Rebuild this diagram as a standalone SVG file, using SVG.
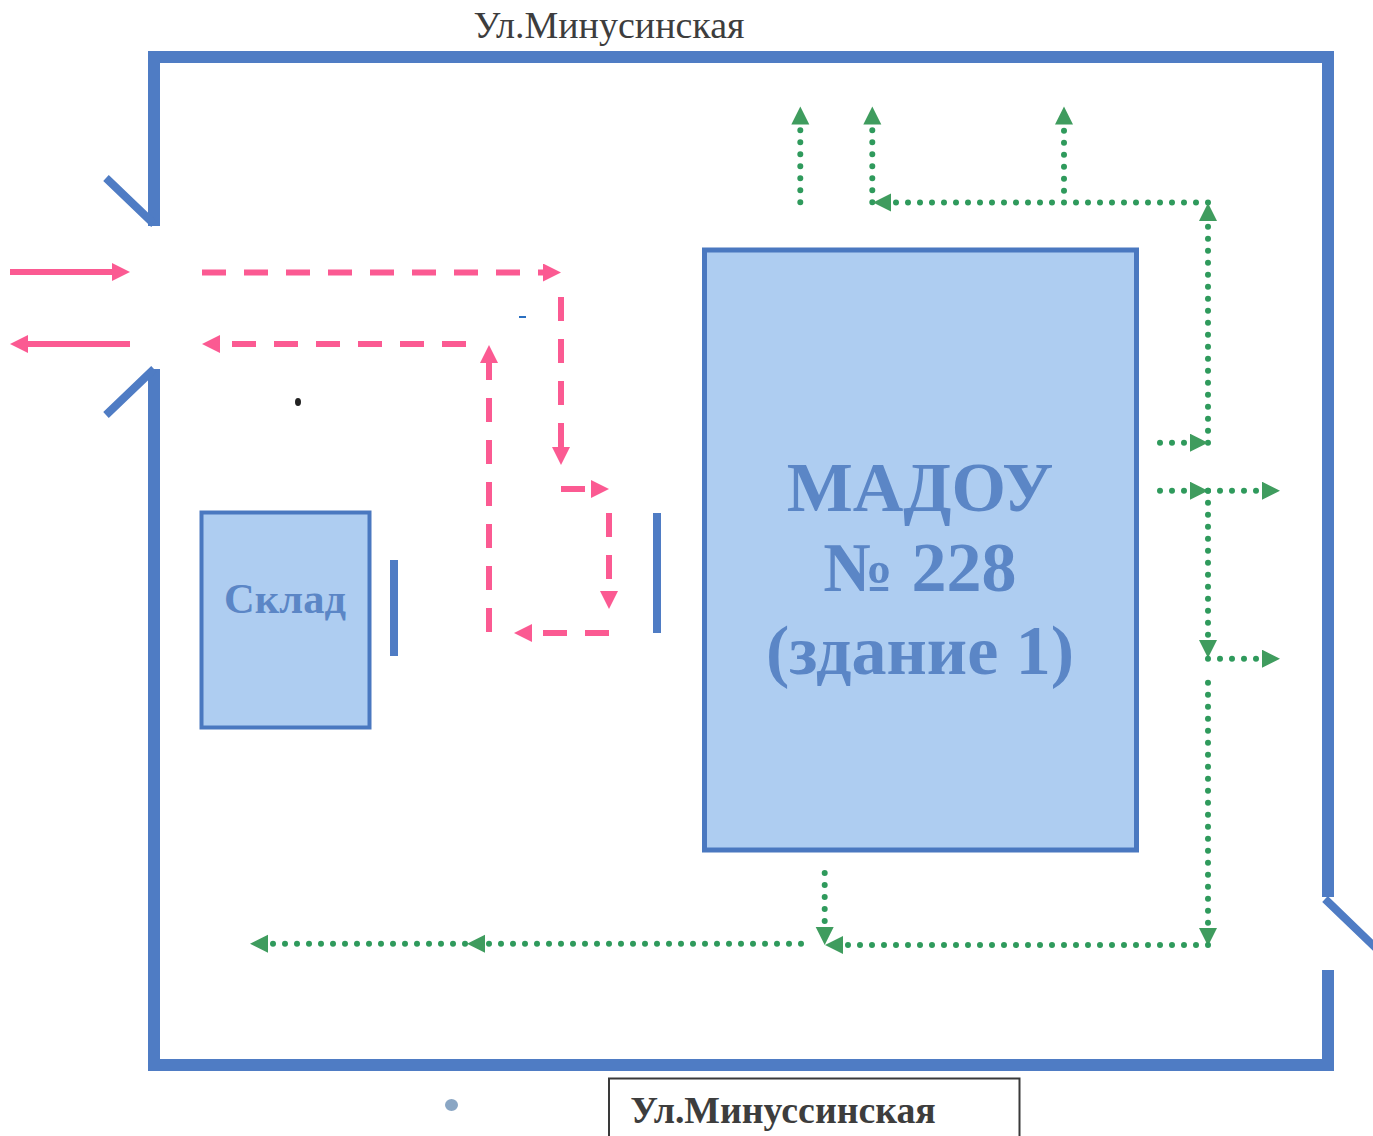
<svg xmlns="http://www.w3.org/2000/svg" width="1373" height="1136" viewBox="0 0 1373 1136">
<style>
text{font-family:"Liberation Serif","Times New Roman",serif;text-anchor:middle}
.wall{fill:none;stroke:#4f7cc4;stroke-width:12;stroke-linejoin:miter}
.door{fill:none;stroke:#4f7cc4;stroke-width:8}
.bld{fill:#aecdf1;stroke:#4a78c0}
.lbl{fill:#5b86c6;font-weight:bold}
.g{fill:none;stroke:#2f9a5c;stroke-width:6;stroke-linecap:round;stroke-dasharray:0 12}
.ps{fill:none;stroke:#fb5a92;stroke-width:6}
.pd{fill:none;stroke:#fb5a92;stroke-width:6;stroke-dasharray:24 18}
</style>
<defs>
<marker id="ga" markerUnits="userSpaceOnUse" markerWidth="20" markerHeight="20" refX="0" refY="9" orient="auto"><path d="M0 0L18 9L0 18Z" fill="#3f9c5e"/></marker>
<marker id="pa" markerUnits="userSpaceOnUse" markerWidth="20" markerHeight="20" refX="0" refY="9" orient="auto"><path d="M0 0L18 9L0 18Z" fill="#fb5a92"/></marker>
</defs>
<rect width="1373" height="1136" fill="#ffffff"/>
<g id="fence">
<path class="wall" d="M154 226V57H1328V897"/>
<path class="wall" d="M1328 970V1065H154V369"/>
<path class="door" d="M106 178L154 224M106 415L154 369M1325 899L1380 952"/>
<rect x="390" y="560" width="8" height="96" fill="#4f7cc4"/>
<rect x="653" y="513" width="8" height="120" fill="#4f7cc4"/>
</g>
<g id="building-1">
<rect class="bld" x="704.500" y="250" width="432" height="600" stroke-width="5"/>
<text class="lbl" x="920" y="511" font-size="70">МАДОУ</text>
<text class="lbl" x="920" y="591" font-size="70">№ 228</text>
<text class="lbl" x="920" y="674" font-size="70">(здание 1)</text>
</g>
<g id="warehouse">
<rect class="bld" x="201.500" y="512.500" width="168" height="215" stroke-width="4"/>
<text class="lbl" x="285" y="613" font-size="42.500">Склад</text>
</g>
<g id="street-top"><text x="609" y="38" font-size="38" fill="#3d3d3d">Ул.Минусинская</text></g>
<g id="street-bottom">
<path d="M609 1136V1078.500H1019.500V1136" fill="none" stroke="#3a3a3a" stroke-width="2"/>
<text x="783" y="1123" font-size="37.800" font-weight="bold" fill="#3d3d3d">Ул.Минуссинская</text>
</g>
<g id="connectors">
<line class="ps" x1="10" y1="272" x2="112" y2="272" marker-end="url(#pa)"/>
<line class="ps" x1="130" y1="344" x2="28" y2="344" marker-end="url(#pa)"/>
<line class="pd" x1="202" y1="272.500" x2="543" y2="272.500" marker-end="url(#pa)"/>
<line class="pd" x1="561" y1="297" x2="561" y2="447" marker-end="url(#pa)"/>
<line class="pd" x1="561" y1="489" x2="591" y2="489" marker-end="url(#pa)"/>
<line class="pd" x1="609" y1="513" x2="609" y2="591" marker-end="url(#pa)"/>
<line class="pd" x1="609" y1="633" x2="532" y2="633" marker-end="url(#pa)"/>
<line class="pd" x1="489" y1="632" x2="489" y2="363" marker-end="url(#pa)"/>
<line class="pd" x1="466" y1="344" x2="220" y2="344" marker-end="url(#pa)"/>
<line class="g" x1="800.300" y1="202.300" x2="800.300" y2="124.500" marker-end="url(#ga)"/>
<line class="g" x1="872.300" y1="202.300" x2="872.300" y2="124.500" marker-end="url(#ga)"/>
<line class="g" x1="1064" y1="190.700" x2="1064" y2="124.500" marker-end="url(#ga)"/>
<line class="g" x1="1208" y1="202.500" x2="891" y2="202.500" marker-end="url(#ga)"/>
<line class="g" x1="1208" y1="442.700" x2="1208" y2="221" marker-end="url(#ga)"/>
<line class="g" x1="1160" y1="442.700" x2="1190" y2="442.700" marker-end="url(#ga)"/>
<line class="g" x1="1160" y1="490.700" x2="1190" y2="490.700" marker-end="url(#ga)"/>
<line class="g" x1="1208" y1="490.700" x2="1262" y2="490.700" marker-end="url(#ga)"/>
<line class="g" x1="1208" y1="490.700" x2="1208" y2="640" marker-end="url(#ga)"/>
<line class="g" x1="1208" y1="658.700" x2="1262" y2="658.700" marker-end="url(#ga)"/>
<line class="g" x1="1208" y1="682.700" x2="1208" y2="928" marker-end="url(#ga)"/>
<line class="g" x1="1208" y1="945" x2="843" y2="945" marker-end="url(#ga)"/>
<line class="g" x1="824.700" y1="873" x2="824.700" y2="927" marker-end="url(#ga)"/>
<line class="g" x1="801" y1="943.700" x2="485" y2="943.700" marker-end="url(#ga)"/>
<line class="g" x1="465" y1="943.700" x2="268" y2="943.700" marker-end="url(#ga)"/>
</g>
<g id="specks">
<ellipse cx="298" cy="402" rx="3" ry="4" fill="#222"/>
<ellipse cx="451.500" cy="1105" rx="6.500" ry="6" fill="#8aa6c4"/>
<rect x="519" y="316" width="7" height="2" fill="#2a6fc0"/>
</g>
</svg>
